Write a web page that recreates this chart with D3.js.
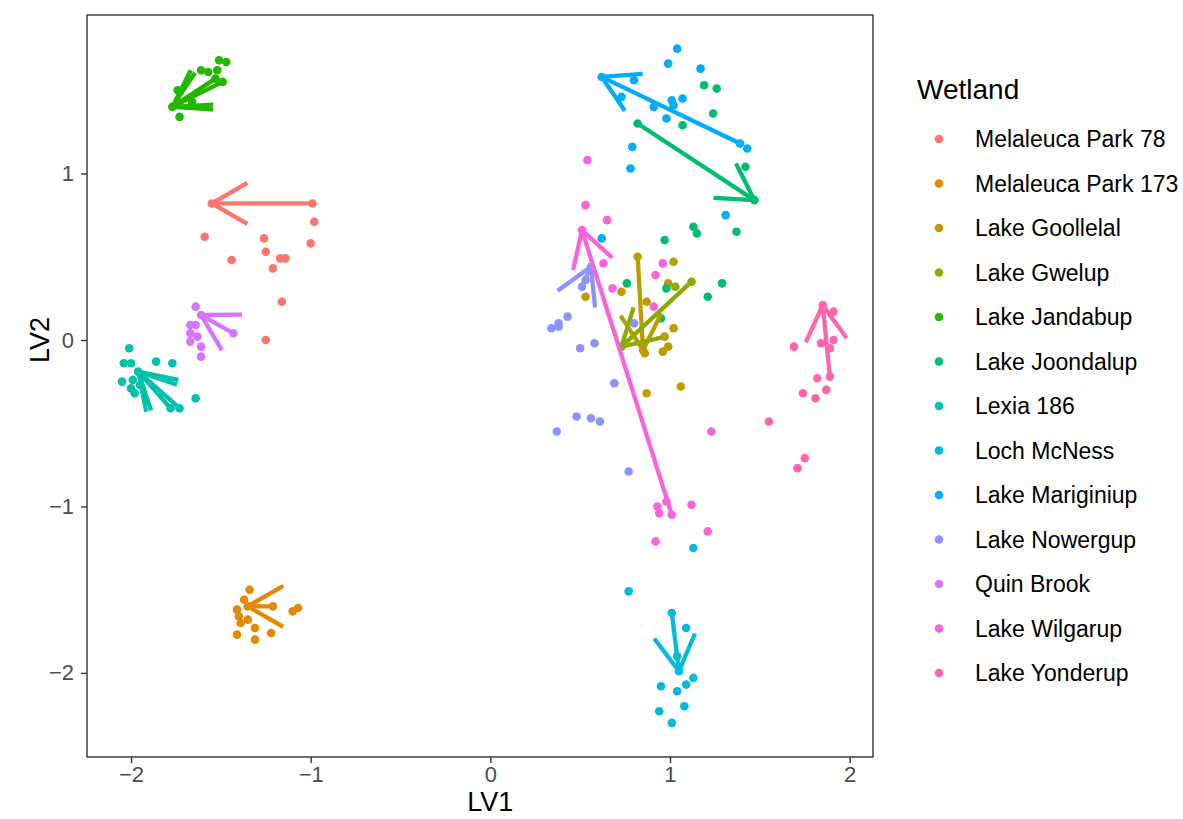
<!DOCTYPE html>
<html>
<head>
<meta charset="utf-8">
<script src="https://cdn.jsdelivr.net/npm/d3@7"></script>
<style>
  body { margin: 0; background: #fff; }
  svg { font-family: "Liberation Sans", Arial, Helvetica, sans-serif; }
</style>
</head>
<body>
<svg id="chart" width="1183" height="819"></svg>
<script>
// wetland names, in legend order
const wetlands = [
  'Melaleuca Park 78', 'Melaleuca Park 173', 'Lake Goollelal', 'Lake Gwelup',
  'Lake Jandabup', 'Lake Joondalup', 'Lexia 186', 'Loch McNess',
  'Lake Mariginiup', 'Lake Nowergup', 'Quin Brook', 'Lake Wilgarup', 'Lake Yonderup',
];

// LV1 / LV2 scores per wetland (same order as wetlands)
const scores = [
  [[-1.55, 0.82], [-0.99, 0.82], [-0.98, 0.71], [-1.59, 0.62], [-1.26, 0.61], [-1.25, 0.53], [-1.00, 0.58],
    [-1.44, 0.48], [-1.17, 0.49], [-1.14, 0.49], [-1.21, 0.43], [-1.16, 0.23], [-1.25, 0.00]],
  [[-1.34, -1.50], [-1.37, -1.56], [-1.41, -1.62], [-1.21, -1.60], [-1.40, -1.66], [-1.35, -1.68], [-1.31, -1.73],
    [-1.41, -1.77], [-1.31, -1.80], [-1.22, -1.76], [-1.10, -1.63], [-1.07, -1.61], [-1.35, -1.60], [-1.39, -1.70]],
  [[0.82, 0.50], [0.85, -0.06], [1.02, 0.47], [0.99, 0.34], [0.73, 0.29], [0.53, 0.26], [0.87, 0.23],
    [1.02, 0.07], [0.97, 0.02], [0.99, -0.04], [0.96, -0.07], [0.86, -0.08], [0.87, -0.32], [1.06, -0.28]],
  [[1.12, 0.35], [0.73, -0.04], [1.03, 0.32]],
  [[-1.51, 1.68], [-1.47, 1.67], [-1.61, 1.62], [-1.57, 1.61], [-1.52, 1.62], [-1.49, 1.55], [-1.53, 1.57],
    [-1.74, 1.50], [-1.77, 1.40], [-1.73, 1.34], [-1.66, 1.43]],
  [[0.82, 1.30], [1.47, 0.84], [1.19, 1.53], [1.26, 1.51], [1.24, 1.36], [1.07, 1.29], [1.42, 1.04], [1.13, 0.68],
    [1.15, 0.64], [1.37, 0.65], [0.97, 0.60], [0.76, 0.34], [0.98, 0.31], [1.29, 0.34], [1.21, 0.26], [0.95, 0.13]],
  [[-2.01, -0.05], [-2.04, -0.14], [-2.00, -0.14], [-1.86, -0.13], [-1.77, -0.14], [-1.96, -0.19], [-2.05, -0.25],
    [-1.99, -0.24], [-2.00, -0.29], [-1.98, -0.32], [-1.95, -0.27], [-1.78, -0.41], [-1.73, -0.41], [-1.64, -0.35]],
  [[1.13, -1.25], [0.77, -1.51], [1.01, -1.64], [1.09, -1.73], [1.05, -1.99], [1.04, -1.90], [1.13, -2.03],
    [1.09, -2.07], [0.95, -2.08], [1.04, -2.11], [0.94, -2.23], [1.08, -2.20], [1.01, -2.30]],
  [[1.39, 1.18], [1.43, 1.15], [0.62, 1.58], [1.04, 1.75], [0.99, 1.66], [1.17, 1.63], [0.80, 1.56], [0.73, 1.46],
    [0.91, 1.40], [1.01, 1.44], [1.02, 1.41], [1.07, 1.45], [0.98, 1.33], [0.79, 1.16], [0.78, 1.03], [1.31, 0.75], [0.62, 0.61]],
  [[0.51, 0.32], [0.53, 0.36], [0.56, 0.44], [0.43, 0.14], [0.38, 0.10], [0.34, 0.07], [0.38, 0.08], [0.50, -0.05],
    [0.58, -0.02], [0.69, -0.26], [0.48, -0.46], [0.56, -0.47], [0.61, -0.49], [0.37, -0.55], [0.80, 0.10], [0.77, -0.79]],
  [[-1.64, 0.20], [-1.61, 0.15], [-1.67, 0.09], [-1.64, 0.09], [-1.67, 0.04], [-1.63, 0.02], [-1.67, -0.01],
    [-1.61, -0.04], [-1.61, -0.10], [-1.43, 0.04]],
  [[0.51, 0.66], [1.01, -1.05], [0.54, 1.08], [0.53, 0.81], [0.65, 0.72], [0.63, 0.46], [0.96, 0.46], [0.92, 0.39],
    [0.68, 0.31], [0.91, 0.20], [1.23, -0.55], [0.93, -1.00], [0.94, -1.04], [0.98, -0.97], [1.12, -0.99], [1.21, -1.15], [0.92, -1.21]],
  [[1.85, 0.21], [1.91, 0.17], [1.69, -0.04], [1.84, -0.02], [1.91, 0.00], [1.89, -0.05], [1.89, -0.22], [1.82, -0.23],
    [1.87, -0.30], [1.74, -0.32], [1.81, -0.35], [1.55, -0.49], [1.75, -0.71], [1.71, -0.77]],
];

// arrows per wetland: [fromLV1, fromLV2, toLV1, toLV2]
const arrows = [
  [[-0.99, 0.82, -1.55, 0.82]],
  [[-1.21, -1.60, -1.35, -1.60]],
  [[0.82, 0.50, 0.85, -0.06]],
  [[1.12, 0.35, 0.73, -0.04]],
  [[-1.53, 1.57, -1.77, 1.40], [-1.49, 1.55, -1.77, 1.40]],
  [[0.82, 1.30, 1.47, 0.84]],
  [[-1.73, -0.41, -1.96, -0.19], [-1.78, -0.41, -1.96, -0.19]],
  [[1.01, -1.64, 1.05, -1.99]],
  [[1.39, 1.18, 0.62, 1.58]],
  [[0.51, 0.32, 0.56, 0.44]],
  [[-1.43, 0.04, -1.61, 0.15]],
  [[1.01, -1.05, 0.51, 0.66]],
  [[1.89, -0.22, 1.85, 0.21]],
];

const xTicks = [-2, -1, 0, 1, 2];
const yTicks = [-2, -1, 0, 1];

const palette = ['#F8766D', '#E18A00', '#BE9C00', '#8CAB00', '#24B700', '#00BE70', '#00C1AB',
  '#00BBDA', '#00ACFC', '#8B93FF', '#D575FE', '#F962DD', '#FF65AC'];

const panel = { left: 87, right: 873, top: 15, bottom: 757 };
const headLen = 41;
const headAngle = Math.PI / 6;

const color = d3.scaleOrdinal().domain(wetlands).range(palette);

const x = d3.scaleLinear().domain([-2.245, 2.13]).range([panel.left, panel.right]);
const y = d3.scaleLinear().domain([-2.505, 1.952]).range([panel.bottom, panel.top]);

const svg = d3.select('#chart');

const fmt = (d) => (d < 0 ? `\u2212${Math.abs(d)}` : `${d}`);

// axes
const xAxis = svg.append('g')
  .attr('transform', `translate(0, ${panel.bottom})`)
  .call(d3.axisBottom(x).tickValues(xTicks).tickSize(6).tickPadding(3).tickFormat(fmt));
const yAxis = svg.append('g')
  .attr('transform', `translate(${panel.left}, 0)`)
  .call(d3.axisLeft(y).tickValues(yTicks).tickSize(6).tickPadding(7).tickFormat(fmt));

[xAxis, yAxis].forEach((g) => {
  g.select('.domain').remove();
  g.selectAll('line').attr('stroke', '#333333').attr('stroke-width', 1.4);
  g.selectAll('text').attr('fill', '#4D4D4D').style('font-size', '22px').style('font-family', 'inherit');
});

// points
const pointData = wetlands.flatMap((w, i) => scores[i].map(([lv1, lv2]) => ({ w, lv1, lv2 })));
svg.append('g')
  .selectAll('circle')
  .data(pointData)
  .enter()
  .append('circle')
  .attr('cx', (d) => x(d.lv1))
  .attr('cy', (d) => y(d.lv2))
  .attr('r', 4.3)
  .attr('fill', (d) => color(d.w));

// arrows
const arrowData = wetlands.flatMap((w, i) => arrows[i].map((a) => ({ w, a })));
const arrowG = svg.append('g')
  .selectAll('g')
  .data(arrowData)
  .enter()
  .append('g')
  .attr('stroke', (d) => color(d.w))
  .attr('stroke-width', 4.3)
  .attr('fill', 'none');

arrowG.append('line')
  .attr('x1', (d) => x(d.a[0]))
  .attr('y1', (d) => y(d.a[1]))
  .attr('x2', (d) => x(d.a[2]))
  .attr('y2', (d) => y(d.a[3]));

arrowG.append('path')
  .attr('stroke-linejoin', 'round')
  .attr('d', (d) => {
    const x1 = x(d.a[0]), y1 = y(d.a[1]), x2 = x(d.a[2]), y2 = y(d.a[3]);
    const ang = Math.atan2(y1 - y2, x1 - x2);
    const p = d3.path();
    p.moveTo(x2 + headLen * Math.cos(ang + headAngle), y2 + headLen * Math.sin(ang + headAngle));
    p.lineTo(x2, y2);
    p.lineTo(x2 + headLen * Math.cos(ang - headAngle), y2 + headLen * Math.sin(ang - headAngle));
    return p.toString();
  });

// panel border
svg.append('rect')
  .attr('x', panel.left)
  .attr('y', panel.top)
  .attr('width', panel.right - panel.left)
  .attr('height', panel.bottom - panel.top)
  .attr('fill', 'none')
  .attr('stroke', '#333333')
  .attr('stroke-width', 1.4);

// axis titles
svg.append('text')
  .text('LV1')
  .attr('x', x(0))
  .attr('y', 811)
  .attr('text-anchor', 'middle')
  .style('font-size', '27px');

svg.append('text')
  .text('LV2')
  .attr('transform', `translate(49, ${y(0)}) rotate(-90)`)
  .attr('text-anchor', 'middle')
  .style('font-size', '27px');

// legend
const legend = svg.append('g');
legend.append('text')
  .text('Wetland')
  .attr('x', 917)
  .attr('y', 99)
  .style('font-size', '28px');

const items = legend.selectAll('g.item')
  .data(wetlands)
  .enter()
  .append('g')
  .attr('class', 'item')
  .attr('transform', (d, i) => `translate(0, ${139 + i * 44.5})`);

items.append('circle')
  .attr('cx', 939)
  .attr('cy', 0)
  .attr('r', 4.3)
  .attr('fill', (d) => color(d));

items.append('text')
  .text((d) => d)
  .attr('x', 975)
  .attr('y', 0)
  .attr('dy', '0.35em')
  .style('font-size', '23px');
</script>
</body>
</html>
